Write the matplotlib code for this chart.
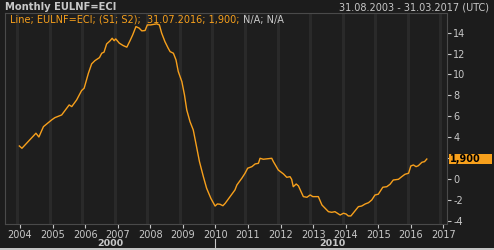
import matplotlib
matplotlib.use("Agg")
import matplotlib.pyplot as plt
from matplotlib.patches import Rectangle

# values (decimal year, % y/y)
years = [2003.98, 2004.06, 2004.49, 2004.58, 2004.72, 2004.97, 2005.07, 2005.28,
         2005.51, 2005.59, 2005.74, 2005.89, 2005.97, 2006.10, 2006.20, 2006.30,
         2006.44, 2006.51, 2006.58, 2006.66, 2006.76, 2006.83, 2006.89, 2006.94,
         2007.05, 2007.17, 2007.28, 2007.38, 2007.46, 2007.56, 2007.66, 2007.74,
         2007.84, 2007.91, 2008.01, 2008.20, 2008.28, 2008.35, 2008.45, 2008.55,
         2008.61, 2008.71, 2008.79, 2008.86, 2008.97, 2009.05, 2009.12, 2009.22,
         2009.32, 2009.41, 2009.51, 2009.63, 2009.73, 2009.86, 2009.99, 2010.06,
         2010.14, 2010.23, 2010.30, 2010.45, 2010.60, 2010.66, 2010.81, 2010.91,
         2010.99, 2011.12, 2011.22, 2011.32, 2011.37, 2011.47, 2011.73, 2011.78,
         2011.93, 2012.09, 2012.19, 2012.29, 2012.34, 2012.39, 2012.48, 2012.55,
         2012.63, 2012.70, 2012.81, 2012.91, 2012.99, 2013.16, 2013.27, 2013.37,
         2013.47, 2013.57, 2013.67, 2013.78, 2013.83, 2013.93, 2014.01, 2014.08,
         2014.16, 2014.24, 2014.39, 2014.49, 2014.60, 2014.70, 2014.80, 2014.90,
         2015.00, 2015.14, 2015.26, 2015.36, 2015.46, 2015.62, 2015.72, 2015.82,
         2015.93, 2016.00, 2016.08, 2016.16, 2016.23, 2016.34, 2016.42, 2016.49]
values = [3.15, 2.93, 4.37, 4.01, 5.00, 5.64, 5.86, 6.12,
          7.08, 6.92, 7.56, 8.45, 8.68, 10.11, 11.01, 11.32,
          11.61, 12.03, 12.13, 12.92, 13.20, 13.46, 13.23, 13.40,
          12.99, 12.76, 12.61, 13.24, 13.78, 14.58, 14.43, 14.17,
          14.20, 14.74, 14.74, 14.84, 14.74, 13.95, 13.14, 12.51,
          12.18, 12.03, 11.39, 10.27, 9.31, 8.04, 6.60, 5.48,
          4.68, 3.25, 1.65, 0.21, -0.90, -1.86, -2.60, -2.40,
          -2.43, -2.57, -2.34, -1.70, -1.06, -0.58, 0.06, 0.54,
          1.02, 1.17, 1.43, 1.49, 1.97, 1.88, 1.97, 1.65,
          0.85, 0.47, 0.15, 0.21, -0.04, -0.75, -0.49, -0.68,
          -1.23, -1.70, -1.76, -1.54, -1.70, -1.70, -2.50, -2.82,
          -3.14, -3.20, -3.14, -3.36, -3.46, -3.29, -3.36, -3.55,
          -3.55, -3.24, -2.66, -2.60, -2.40, -2.28, -2.02, -1.54,
          -1.47, -0.80, -0.75, -0.52, -0.11, -0.04, 0.21, 0.44,
          0.54, 1.24, 1.33, 1.17, 1.26, 1.59, 1.65, 1.90]

year_ticks = list(range(2004, 2018))
y_ticks = [-4, -2, 0, 2, 4, 6, 8, 10, 12, 14]
decades = ["2000", "2010"]
last_label = "1,900"

BG = "#1c1c1c"
PLOT_BG = "#1e1e1e"
GRID = "#2a2a2a"
ORANGE = "#f7a01c"
TEXT = "#c8c8c8"

W, H = 494, 250
fig = plt.figure(figsize=(W / 100, H / 100), dpi=100, facecolor=BG)
# axes box in pixels: x 5..447, y 13..224 (from top)
ax = fig.add_axes([5 / W, 1 - 224 / H, 442 / W, 211 / H], facecolor=PLOT_BG)

ax.set_xlim(2003.54, 2017.11)
ax.set_ylim(-4.32, 15.88)

# year bands sit a few px left of the tick marks
for yr in year_ticks:
    ax.axvline(yr - 0.09, color=GRID, lw=2.2, zorder=0)

ax.plot(years, values, color=ORANGE, lw=1.0, zorder=3)

for s in ax.spines.values():
    s.set_color("#4a4a4a")
    s.set_linewidth(0.8)

ax.set_xticks(year_ticks)
ax.set_xticklabels([str(y) for y in year_ticks])
ax.set_yticks(y_ticks)
# the "2" label sits under the last-value tag in the reference, so leave it blank
ax.set_yticklabels(["" if abs(v - values[-1]) < 0.6 else (f"{v}" if v >= 0 else f"-{abs(v)}")
                    for v in y_ticks])
ax.yaxis.tick_right()
ax.tick_params(axis="x", colors=TEXT, labelsize=7, length=3, width=0.8, pad=1)
ax.tick_params(axis="y", colors=TEXT, labelsize=7, length=3, width=0.8, pad=1.5)
for lbl in ax.get_xticklabels() + ax.get_yticklabels():
    lbl.set_color(TEXT)

# last-value tag on the right axis
ylo, yhi = ax.get_ylim()
ax_bottom, ax_h = 1 - 224 / H, 211 / H
tag_y = ax_bottom + (values[-1] - ylo) / (yhi - ylo) * ax_h
box_h = 10 / H
fig.add_artist(Rectangle((449 / W, tag_y - box_h / 2), 43 / W, box_h,
                         transform=fig.transFigure, facecolor=ORANGE,
                         edgecolor="none", zorder=5))
fig.text(450 / W, tag_y, last_label, color="black", fontsize=7,
         fontweight="bold", va="center", ha="left", zorder=6)

# header
fig.text(5 / W, 1 - 7 / H, "Monthly EULNF=ECI", color=TEXT, fontsize=7.2,
         fontweight="bold", va="center", ha="left")
fig.text(489 / W, 1 - 7 / H, "31.08.2003 - 31.03.2017 (UTC)", color=TEXT,
         fontsize=7, va="center", ha="right")
leg = fig.text(10 / W, 1 - 20 / H, "Line; EULNF=ECI; (S1; S2);  31.07.2016; 1,900; ",
               color=ORANGE, fontsize=7, va="center", ha="left")
fig.canvas.draw()
bb = leg.get_window_extent()
fig.text(bb.x1 / W, 1 - 20 / H, "N/A; N/A", color=TEXT, fontsize=7,
         va="center", ha="left")

# decade row under the year labels
fig.text(110 / W, 1 - 243.5 / H, decades[0], color=TEXT, fontsize=6.8,
         fontweight="bold", va="center", ha="center")
fig.text(332 / W, 1 - 243.5 / H, decades[1], color=TEXT, fontsize=6.8,
         fontweight="bold", va="center", ha="center")
fig.add_artist(plt.Line2D([215 / W, 215 / W], [1 - 239 / H, 1 - 248 / H],
                          color=TEXT, lw=0.8))

# light strip along the bottom edge
fig.add_artist(Rectangle((0, 0), 1, 2 / H, transform=fig.transFigure,
                         facecolor="#c4c4c4", edgecolor="none"))

fig.savefig("out.png", dpi=100, facecolor=BG)
